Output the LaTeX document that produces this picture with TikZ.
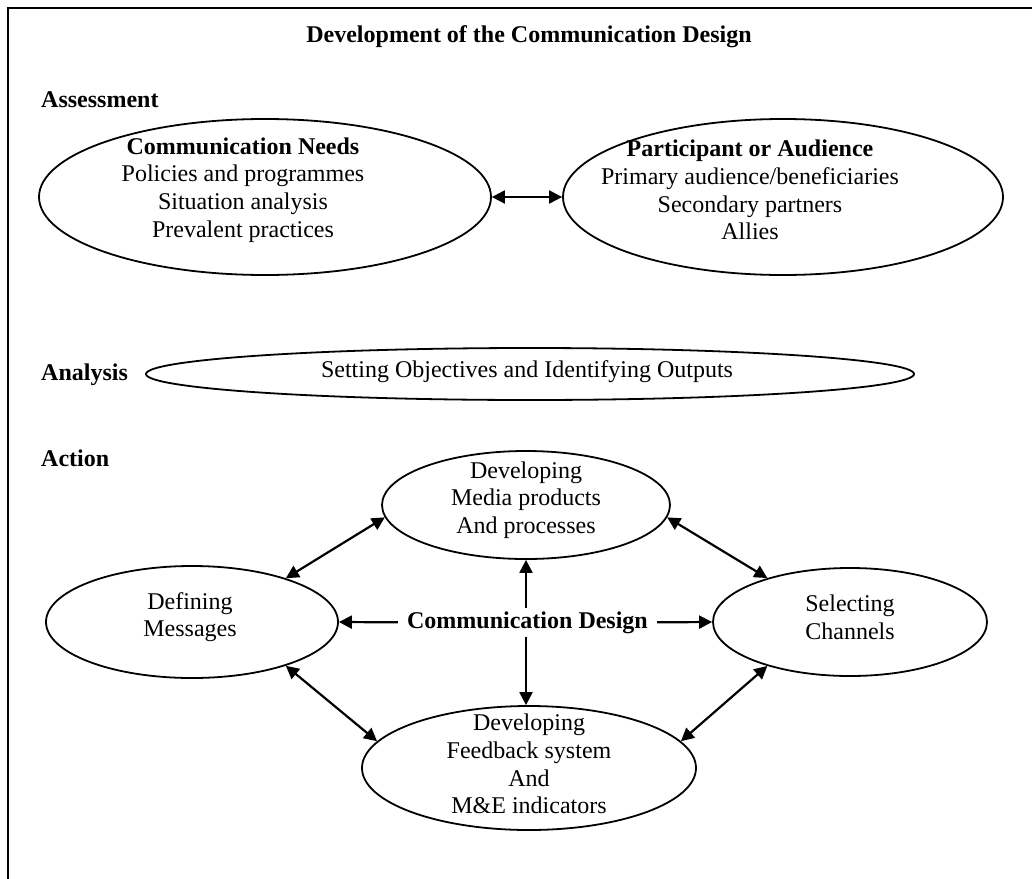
\documentclass[tikz,border=0pt]{standalone}
\usepackage{fontspec}
\setmainfont{Liberation Serif}
\usetikzlibrary{shapes.geometric,arrows.meta}
\begin{document}
\begin{tikzpicture}[x=1pt,y=-1pt,
  oval/.style={draw, ellipse, line width=1.8pt, inner sep=0pt},
  body/.style={align=center, font=\fontsize{24}{27.6}\selectfont, inner sep=0pt},
  heading/.style={anchor=base west, font=\fontsize{24}{27.6}\selectfont\bfseries, inner sep=0pt},
  tip/.tip={Triangle[length=13pt,width=13pt]},
  arr/.style={line width=2.2pt, -tip},
  darr/.style={line width=2.2pt, tip-tip},
]
\useasboundingbox (0,0) rectangle (1032,878);
% outer frame, running off the right and bottom edges
\begin{scope}
  \clip (0,0) rectangle (1032,878);
  \draw[line width=2.7pt] (8,8) rectangle (1080,920);
\end{scope}

% title and section headings
\node[anchor=base, inner sep=0pt, font=\fontsize{24}{27.6}\selectfont\bfseries] (title) at (529,42) {Development of the Communication Design};
\node[heading] (hA) at (41,107) {Assessment};
\node[heading] (hB) at (41,380) {Analysis};
\node[heading] (hC) at (41,466) {Action};

% assessment
\node[oval, minimum width=452pt, minimum height=156pt] (needs) at (265,197) {};
\node[body] (needsT) at (243,190) {\textbf{Communication Needs}\\Policies and programmes\\Situation analysis\\Prevalent practices};
\node[oval, minimum width=440pt, minimum height=156pt] (aud) at (783,197) {};
\node[body] (audT) at (750,190) {\textbf{Participant or Audience}\\Primary audience/beneficiaries\\Secondary partners\\Allies};
\draw[darr] (needs.east) -- (aud.west);

% analysis
\node[oval, minimum width=768pt, minimum height=52pt] (obj) at (530,374) {};
\node[body, anchor=base] (objT) at (527,377) {Setting Objectives and Identifying Outputs};

% action
\node[oval, minimum width=288pt, minimum height=108pt] (media) at (526,505) {};
\node[body] (mediaT) at (526,500) {Developing\\Media products\\And processes};
\node[oval, minimum width=292pt, minimum height=112pt] (msg) at (192,622) {};
\node[body] (msgT) at (190,617) {Defining\\Messages};
\node[oval, minimum width=274pt, minimum height=108pt] (chan) at (850,622) {};
\node[body] (chanT) at (850,617) {Selecting\\Channels};
\node[oval, minimum width=334pt, minimum height=124pt] (fb) at (529,768) {};
\node[body] (fbT) at (529,764) {Developing\\Feedback system\\And\\M\&E indicators};

\node[anchor=base, inner xsep=9pt, inner ysep=3pt, font=\fontsize{24}{27.6}\selectfont\bfseries] (cd) at (527.5,628) {Communication Design};

\draw[arr] (cd.west) -- (msg.east);
\draw[arr] (cd.east) -- (chan.west);
\draw[arr] (cd.north -| media.south) -- (media.south);
\draw[arr] (cd.south -| media.south) -- (media.south |- fb.north);

\draw[darr] (msg.25) -- (media.185);
\draw[darr] (media.355) -- (chan.152);
\draw[darr] (msg.335) -- (fb.170);
\draw[darr] (fb.10) -- (chan.208);
\end{tikzpicture}
\end{document}
